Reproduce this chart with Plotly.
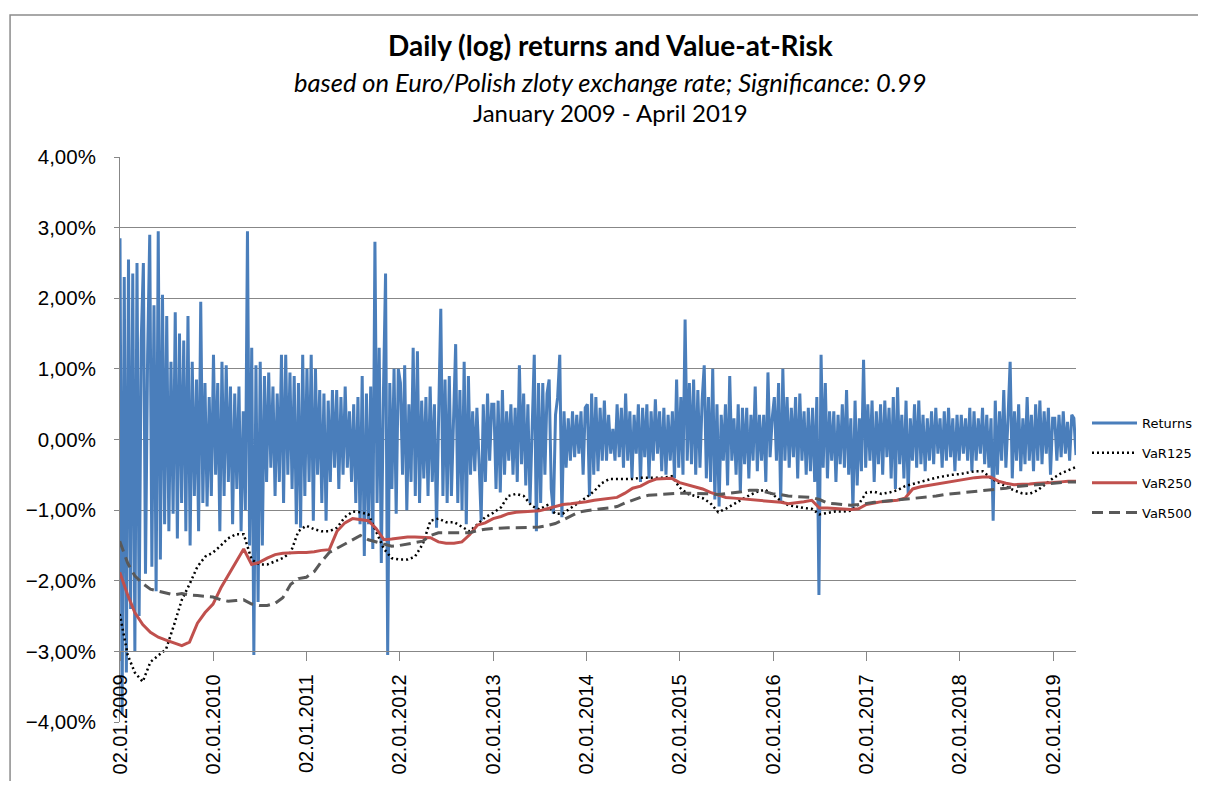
import pandas as pd
import numpy as np
import plotly.graph_objects as go

RET_2009 = [2.85, -3.9, 2.3, -3.3, 2.55, -2.4, 2.35, -3.0, 2.5, -2.5, 1.4, 2.5, -1.9, 1.2, 2.9,
            -1.8, 1.9, -2.15, 2.95, -1.7, 2.05, -1.2, 1.75, -1.3, 1.1, -1.05, 1.8, -1.4, 1.5, -0.9,
            1.4, -1.3, 1.75, -1.5, 1.1, -0.8, 0.85, -1.3, 1.95, -0.9, 0.8, -0.95, 0.6, -0.8]
RET_2010 = [1.2, -0.5, 0.8, -1.3, 1.1, -0.8, 1.05, -0.6, 0.75, -1.2, 0.65, -0.7, 0.75, -1.3, 0.4,
            -1.0, 2.95, -1.5, 1.3, -3.05, 1.05, -2.3, 1.1, -1.5, 0.9, -0.6, 0.95, -0.4, 0.75, -0.8,
            0.65, -0.6, 1.2, -0.9, 1.2, -0.5, 0.95, -0.7, 0.9, -1.2, 0.8, -1.25, 1.2, -0.8]
RET_2011 = [1.0, -0.6, 1.2, -1.15, 1.0, -0.5, 0.7, -0.9, 0.65, -1.15, 0.55, -0.6, 0.7, -0.4, 0.7,
            -0.7, 0.6, -0.5, 0.75, -0.4, 0.4, -0.6, 0.5, -0.9, 0.6, -1.2, 0.9, -1.65, 0.65, -1.2,
            0.75, -1.55, 2.8, -0.9, 1.3, -1.75, 0.65, 2.35, -3.05, 0.8, -0.7, 1.0, -1.05, 1.0]
RET_2012 = [0.8, -0.5, 1.05, -1.0, 0.5, -0.6, 1.3, -0.8, 1.25, -0.9, 0.55, -0.55, 0.6, -0.8, 0.75,
            -0.6, 0.5, -1.25, 0.35, 1.85, -0.8, 0.85, -0.9, 0.9, -0.8, 0.5, 1.35, -0.9, 0.7, -1.0,
            1.1, -1.2, 0.9, -0.5, 0.4, -0.45, 0.45, -0.3, -1.15, 0.5, -0.6, 0.65, -0.3, 0.5]
RET_2013 = [0.5, -0.7, 0.55, -0.75, 0.7, -0.5, 0.4, -0.3, 0.5, -0.5, 0.45, -0.6, 1.05, -0.35, 0.65,
            -0.65, 0.5, -0.9, 0.35, 1.2, -1.3, 0.8, -0.9, 0.8, -0.5, 0.65, 0.85, -0.7, -1.05, 0.35,
            0.6, 1.2, -1.1, 0.4, -0.4, 0.3, -0.3, 0.4, -0.25, 0.35, -0.2, 0.4, -0.5, 0.45]
RET_2014 = [0.5, -0.8, 0.65, -0.5, 0.6, -0.45, 0.45, -0.3, 0.55, -0.3, 0.35, -0.2, 0.15, -0.3, 0.5,
            -0.25, 0.45, -0.4, 0.65, -0.3, 0.4, -0.55, 0.35, -0.2, 0.5, -0.6, 0.45, -0.25, 0.5, -0.55,
            0.4, -0.3, 0.57, -0.2, 0.4, -0.45, 0.45, -0.5, 0.35, -0.3, 0.4, -0.55, 0.85, -0.4]
RET_2015 = [0.6, -0.5, 1.7, -0.3, 0.8, -0.35, 0.85, -0.5, 0.7, -0.4, 0.55, 1.05, -0.55, 0.6, -0.6,
            1.0, -0.85, 0.5, -0.95, 0.35, -0.3, 0.5, -0.65, 0.9, -0.3, 0.3, -0.5, 0.5, -0.75, 0.45,
            -0.35, 0.45, -0.55, 0.35, -0.3, 0.75, -0.45, 0.35, -0.3, 0.35, -0.6, 0.95, -0.25, 0.3]
RET_2016 = [0.6, -0.3, 0.8, -0.9, 1.0, -0.3, 0.6, -0.4, 0.45, -0.25, 0.6, -0.55, 0.65, -0.3, 0.4,
            -0.5, 0.45, -0.45, 0.45, -0.6, 0.6, -2.2, 1.2, -0.4, 0.8, -0.55, 0.4, -0.3, 0.4, -0.6,
            0.35, -0.35, 0.5, -0.4, 0.7, -0.5, 0.3, -1.0, 0.55, -0.65, 0.3, -0.45, 1.13, -0.4]
RET_2017 = [0.5, -0.3, 0.55, -0.6, 0.4, -0.35, 0.5, -0.5, 0.55, -0.25, 0.45, -0.55, 0.6, -0.7, 0.74,
            -0.35, 0.35, -0.55, 0.55, -0.77, 0.3, -0.3, 0.5, -0.4, 0.55, -0.35, 0.35, -0.45, 0.3, -0.3,
            0.4, -0.35, 0.45, -0.2, 0.3, -0.4, 0.4, -0.3, 0.45, -0.25, 0.3, -0.45, 0.35, -0.3]
RET_2018 = [0.35, -0.2, 0.3, -0.3, 0.45, -0.45, 0.4, -0.3, 0.3, -0.2, 0.45, -0.35, 0.35, -0.4, 0.3,
            -1.15, 0.55, -0.5, 0.4, -0.3, 0.7, -0.4, 0.3, 1.1, -0.55, 0.4, -0.3, 0.5, -0.45, 0.3,
            -0.35, 0.6, -0.3, 0.35, -0.45, 0.5, -0.3, 0.55, -0.35, 0.4, -0.2, 0.45, -0.5, 0.3]
RET_2019 = [0.3, -0.3, 0.35, -0.25, 0.4, -0.2, 0.25, -0.3, 0.35, 0.3, -0.22]

# Value-at-Risk in %, one value per month (Jan 2009 .. Mar 2019) plus the last day
VAR125 = [-2.47, -3.05, -3.3, -3.43, -3.15, -3.06, -2.97, -2.63, -2.27, -2.05, -1.8, -1.66,
          -1.6, -1.5, -1.4, -1.34, -1.34, -1.7, -1.77, -1.77, -1.72, -1.68, -1.6, -1.3,
          -1.22, -1.27, -1.3, -1.3, -1.25, -1.1, -1.02, -1.03, -1.06, -1.3, -1.55, -1.68,
          -1.7, -1.7, -1.66, -1.48, -1.15, -1.12, -1.17, -1.17, -1.24, -1.3, -1.2, -1.1,
          -1.04, -0.96, -0.8, -0.77, -0.8, -0.94, -0.99, -0.93, -1.05, -1.05, -0.97, -0.9,
          -0.82, -0.73, -0.62, -0.56, -0.56, -0.56, -0.56, -0.54, -0.54, -0.54, -0.54, -0.52,
          -0.68, -0.77, -0.8, -0.83, -0.9, -1.03, -0.98, -0.91, -0.85, -0.79, -0.74, -0.71,
          -0.78, -0.87, -0.93, -0.95, -0.97, -0.98, -1.06, -1.04, -1.02, -1.02, -1.01, -0.92,
          -0.75, -0.74, -0.77, -0.75, -0.72, -0.66, -0.63, -0.6, -0.57, -0.54, -0.52, -0.5,
          -0.49, -0.47, -0.45, -0.45, -0.54, -0.61, -0.67, -0.72, -0.76, -0.77, -0.72, -0.63,
          -0.55, -0.48, -0.44, -0.39]
VAR250 = [-1.88, -2.2, -2.45, -2.62, -2.73, -2.8, -2.84, -2.88, -2.92, -2.87, -2.6, -2.45,
          -2.33, -2.1, -1.93, -1.75, -1.55, -1.77, -1.74, -1.68, -1.63, -1.61, -1.6, -1.6,
          -1.6, -1.59, -1.57, -1.56, -1.3, -1.18, -1.12, -1.13, -1.15, -1.26, -1.42, -1.41,
          -1.39, -1.38, -1.38, -1.39, -1.39, -1.45, -1.47, -1.47, -1.45, -1.35, -1.21, -1.18,
          -1.12, -1.09, -1.05, -1.03, -1.02, -1.02, -1.01, -0.98, -0.95, -0.92, -0.91, -0.89,
          -0.88, -0.86, -0.85, -0.84, -0.82, -0.76, -0.69, -0.66, -0.6, -0.56, -0.55, -0.55,
          -0.61, -0.64, -0.67, -0.7, -0.75, -0.79, -0.82, -0.83, -0.84, -0.84, -0.85, -0.87,
          -0.88, -0.89, -0.91, -0.9, -0.88, -0.86, -0.97, -0.97, -0.98, -0.99, -0.99, -0.98,
          -0.92, -0.9, -0.88, -0.87, -0.86, -0.83, -0.7, -0.67, -0.65, -0.63, -0.61, -0.59,
          -0.57, -0.56, -0.54, -0.53, -0.53, -0.59, -0.62, -0.64, -0.64, -0.63, -0.62, -0.62,
          -0.61, -0.6, -0.59, -0.59]
VAR500 = [-1.44, -1.75, -1.93, -2.04, -2.12, -2.15, -2.18, -2.2, -2.18, -2.2, -2.21, -2.22,
          -2.23, -2.27, -2.29, -2.28, -2.27, -2.33, -2.35, -2.35, -2.32, -2.24, -2.05, -1.97,
          -1.95, -1.87, -1.73, -1.6, -1.54, -1.48, -1.41, -1.36, -1.42, -1.45, -1.49, -1.51,
          -1.5, -1.48, -1.47, -1.44, -1.36, -1.32, -1.32, -1.32, -1.33, -1.32, -1.29, -1.27,
          -1.26, -1.25, -1.25, -1.25, -1.25, -1.25, -1.24, -1.22, -1.19, -1.14, -1.08, -1.03,
          -1.01, -0.99, -0.98, -0.97, -0.95, -0.9, -0.86, -0.82, -0.79, -0.78, -0.78, -0.76,
          -0.76, -0.76, -0.76, -0.76, -0.77, -0.78, -0.77, -0.76, -0.74, -0.72, -0.72, -0.74,
          -0.77, -0.78, -0.8, -0.81, -0.82, -0.82, -0.85, -0.9, -0.91, -0.92, -0.93, -0.92,
          -0.9, -0.89, -0.88, -0.87, -0.86, -0.84, -0.83, -0.82, -0.81, -0.8, -0.78, -0.77,
          -0.76, -0.75, -0.74, -0.73, -0.72, -0.71, -0.69, -0.67, -0.66, -0.64, -0.63, -0.62,
          -0.62, -0.61, -0.6, -0.6]

TICK_YEARS = list(range(2009, 2020))
START, END = "2009-01-02", "2019-04-01"

returns = np.array(RET_2009 + RET_2010 + RET_2011 + RET_2012 + RET_2013 + RET_2014
                   + RET_2015 + RET_2016 + RET_2017 + RET_2018 + RET_2019) / 100
ret_dates = pd.date_range(START, END, periods=len(returns))
var_dates = list(pd.date_range("2009-01-01", "2019-03-01", freq="MS")) + [pd.Timestamp(END)]

GRID = "#878787"
INK = "#000000"

fig = go.Figure()
fig.add_trace(go.Scatter(x=ret_dates, y=returns, mode="lines", name="Returns",
                         legendgroup="r", line=dict(color="#4A7EBB", width=3)))
fig.add_trace(go.Scatter(x=var_dates, y=np.array(VAR125) / 100, mode="lines", name="VaR125",
                         legendgroup="a", line=dict(color="#000000", width=2.5, dash="2px,3px")))
fig.add_trace(go.Scatter(x=var_dates, y=np.array(VAR250) / 100, mode="lines", name="VaR250",
                         legendgroup="b", line=dict(color="#C0504D", width=3)))
fig.add_trace(go.Scatter(x=var_dates, y=np.array(VAR500) / 100, mode="lines", name="VaR500",
                         legendgroup="c", line=dict(color="#595959", width=3, dash="11px,6px")))

# the page body has an 8px margin on every side; keep the figure inside the window
fig.update_layout(
    width=1190, height=773,
    separators=", ",
    plot_bgcolor="white", paper_bgcolor="white",
    margin=dict(l=112, r=122, t=149, b=59),
    showlegend=True,
    # container-referenced legend so it does not push the right margin
    legend=dict(xref="container", yref="container", x=1.0, y=0.405,
                xanchor="right", yanchor="middle",
                font=dict(family="DejaVu Sans", size=13, color=INK),
                tracegroupgap=10, itemwidth=45, bgcolor="rgba(0,0,0,0)"),
    font=dict(family="Liberation Sans", color=INK),
)

fig.update_yaxes(range=[-0.04, 0.04], dtick=0.01, tick0=0, tickformat=".2%",
                 automargin=False,
                 showgrid=True, gridcolor=GRID, gridwidth=1, zeroline=False,
                 showline=True, linecolor=GRID, linewidth=1,
                 ticks="outside", ticklen=5, tickcolor=GRID, ticklabelstandoff=14,
                 tickfont=dict(family="Liberation Sans", size=20.5, color=INK))
fig.update_xaxes(type="date", range=[START, END], anchor="free", position=0.125,
                 automargin=False,
                 showgrid=False, zeroline=False, showline=True, linecolor=GRID, linewidth=1,
                 ticks="outside", ticklen=9, tickcolor=GRID, ticklabelstandoff=5,
                 tickvals=[f"{y}-01-02" for y in TICK_YEARS],
                 ticktext=[f"02.01.{y}" for y in TICK_YEARS],
                 tickangle=-90,
                 tickfont=dict(family="Liberation Sans", size=20, color=INK))

titles = [
    ("<b>Daily (log) returns and Value-at-Risk</b>", 1.198, 28),
    ("<i>based on Euro/Polish zloty exchange rate; Significance: 0.99</i>", 1.133, 25.5),
    ("January 2009 - April 2019", 1.078, 24),
]
for text, ypos, size in titles:
    fig.add_annotation(text=text, x=0.5126, y=ypos, xref="paper", yref="paper",
                       showarrow=False, xanchor="center", yanchor="middle",
                       font=dict(family="Lato", size=size, color=INK))

# outer chart border
fig.add_shape(type="rect", xref="paper", yref="paper",
              x0=-0.115, x1=1.16, y0=-0.2, y1=1.2513,
              line=dict(color="#8c8c8c", width=1.5), fillcolor="rgba(0,0,0,0)")

fig.write_html("out.html")
